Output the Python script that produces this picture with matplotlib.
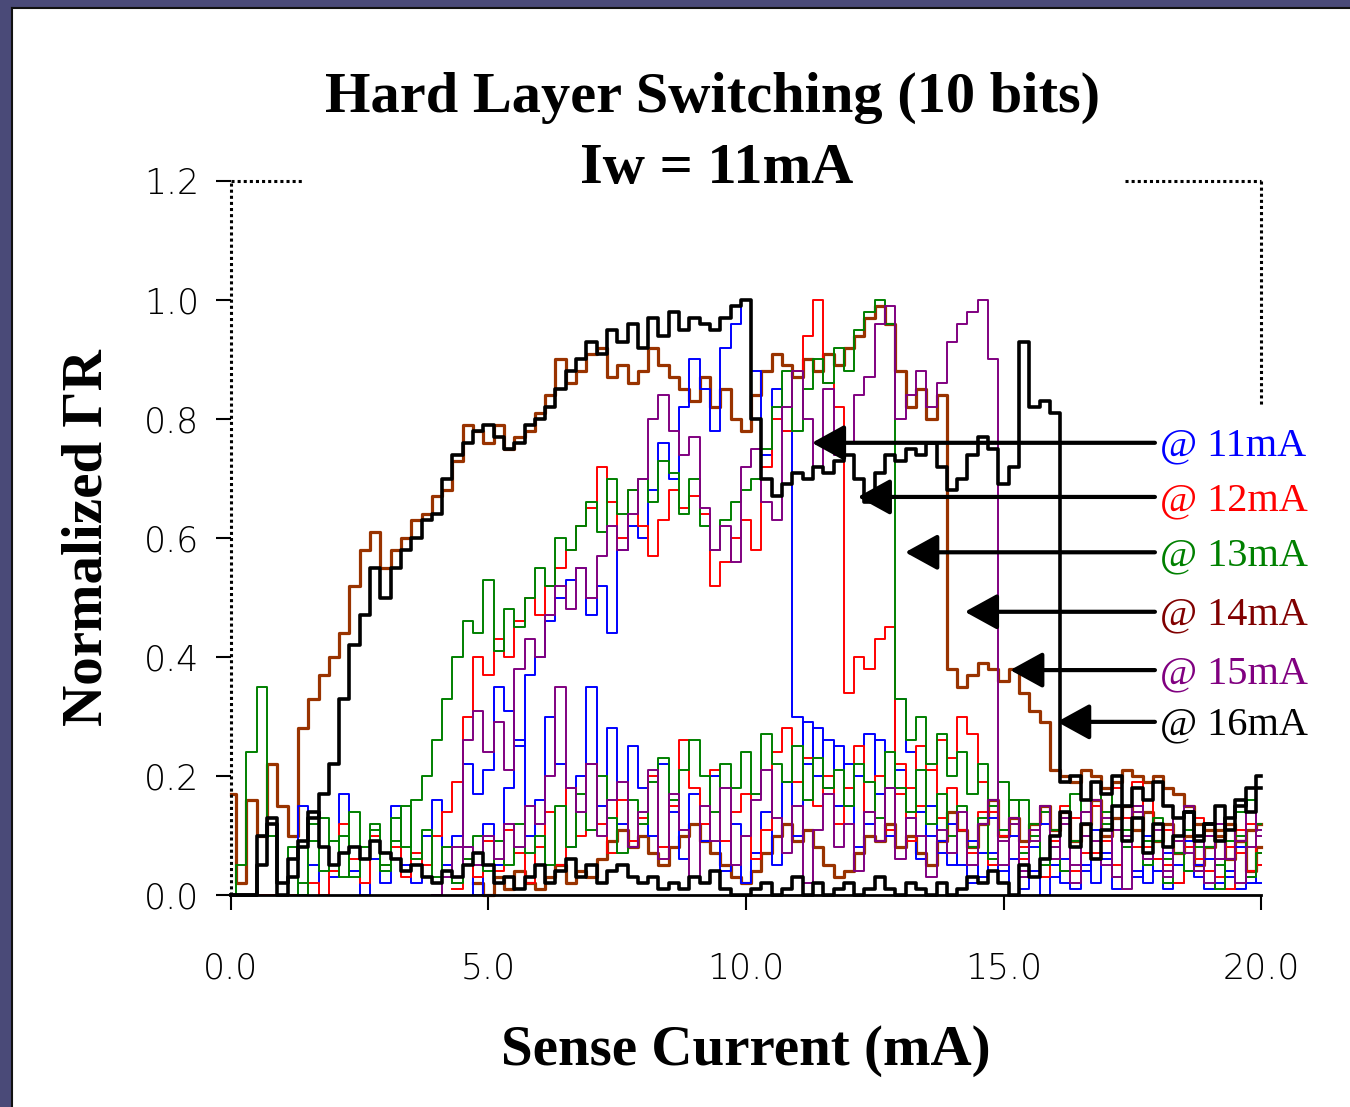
import matplotlib.pyplot as plt
import numpy as np
from matplotlib.patches import Rectangle

nan = np.nan

# sense current grid (mA), one point every 0.2 mA
current = np.round(np.arange(0, 20.01, 0.2), 1)

# forward sweep (up) and return sweep (down) for each write current
bk_up = [0.00, 0.00, 0.00, 0.05, 0.12, 0.00, 0.03, 0.08, 0.13, 0.17,
         0.22, 0.33, 0.42, 0.47, 0.55, 0.50, 0.55, 0.58, 0.60, 0.63,
         0.64, 0.70, 0.74, 0.76, 0.78, 0.79, 0.77, 0.75, 0.76, 0.79,
         0.80, 0.82, 0.85, 0.88, 0.90, 0.93, 0.91, 0.95, 0.93, 0.96,
         0.92, 0.97, 0.94, 0.98, 0.95, 0.97, 0.96, 0.95, 0.97, 0.99,
         1.00, 0.80, 0.70, 0.67, 0.69, 0.71, 0.70, 0.72, 0.71, 0.73,
         0.74, 0.70, 0.66, 0.71, 0.74, 0.73, 0.75, 0.74, 0.76, 0.72,
         0.68, 0.70, 0.74, 0.77, 0.75, 0.69, 0.72, 0.93, 0.82, 0.83,
         0.81, 0.19, 0.20, 0.16, 0.19, 0.17, 0.20, 0.15, 0.18, 0.16,
         0.19, 0.15, 0.13, 0.14, 0.10, 0.12, 0.09, 0.13, 0.15, 0.18,
         0.20]
bk_dn = [0.00, 0.00, 0.00, 0.10, 0.13, 0.02, 0.06, 0.09, 0.14, 0.08,
         0.05, 0.07, 0.08, 0.06, 0.09, 0.07, 0.06, 0.04, 0.05, 0.03,
         0.02, 0.04, 0.03, 0.05, 0.07, 0.05, 0.02, 0.03, 0.01, 0.03,
         0.05, 0.02, 0.04, 0.06, 0.03, 0.05, 0.02, 0.04, 0.05, 0.03,
         0.02, 0.03, 0.01, 0.02, 0.01, 0.03, 0.02, 0.04, 0.01, 0.00,
         0.00, 0.01, 0.02, 0.00, 0.01, 0.03, 0.00, 0.02, 0.00, 0.01,
         0.02, 0.00, 0.01, 0.03, 0.01, 0.00, 0.02, 0.01, 0.00, 0.02,
         0.00, 0.01, 0.03, 0.02, 0.04, 0.02, 0.00, 0.05, 0.03, 0.06,
         0.10, 0.14, 0.08, 0.12, 0.06, 0.11, 0.15, 0.09, 0.13, 0.07,
         0.12, 0.08, 0.10, 0.14, 0.09, 0.12, 0.15, 0.11, 0.16, 0.14,
         0.18]

br_up = [0.17, 0.02, 0.16, 0.10, 0.22, 0.15, 0.10, 0.28, 0.33, 0.37,
         0.40, 0.44, 0.52, 0.58, 0.61, 0.55, 0.58, 0.60, 0.63, 0.64,
         0.67, 0.68, 0.73, 0.79, 0.78, 0.76, 0.79, 0.75, 0.77, 0.78,
         0.81, 0.84, 0.90, 0.86, 0.88, 0.91, 0.92, 0.87, 0.89, 0.86,
         0.88, 0.92, 0.89, 0.87, 0.85, 0.83, 0.87, 0.82, 0.85, 0.80,
         0.78, 0.84, 0.88, 0.91, 0.89, 0.87, 0.90, 0.88, 0.91, 0.89,
         0.92, 0.94, 0.97, 0.99, 0.96, 0.88, 0.82, 0.85, 0.80, 0.84,
         0.38, 0.35, 0.37, 0.39, 0.38, 0.36, 0.38, 0.34, 0.31, 0.29,
         0.21, 0.20, 0.19, 0.21, 0.20, 0.18, 0.19, 0.21, 0.20, 0.19,
         0.20, 0.18, 0.17, 0.15, 0.12, 0.11, 0.10, 0.12, 0.09, 0.11,
         0.12]
br_dn = [nan, nan, nan, nan, nan, nan, nan, nan, nan, nan,
         nan, nan, nan, nan, nan, nan, nan, nan, nan, nan,
         nan, nan, nan, nan, 0.02, 0.00, 0.03, 0.01, 0.04, 0.02,
         0.01, 0.03, 0.05, 0.02, 0.04, 0.03, 0.06, 0.09, 0.11, 0.08,
         0.10, 0.07, 0.05, 0.08, 0.10, 0.12, 0.09, 0.07, 0.05, 0.03,
         0.02, 0.04, 0.07, 0.10, 0.12, 0.09, 0.11, 0.08, 0.05, 0.03,
         0.04, 0.07, 0.10, 0.09, 0.12, 0.08, 0.10, 0.07, 0.05, 0.09,
         0.14, 0.11, 0.08, 0.12, 0.16, 0.10, 0.13, 0.09, 0.12, 0.15,
         0.11, 0.14, 0.09, 0.12, 0.16, 0.10, 0.13, 0.15, 0.11, 0.14,
         0.09, 0.12, 0.07, 0.10, 0.05, 0.08, 0.11, 0.06, 0.09, 0.04,
         0.08]

bl_up = [0.00, 0.00, 0.00, 0.00, 0.00, 0.00, 0.00, 0.15, 0.05, 0.00,
         0.03, 0.17, 0.04, 0.00, 0.06, 0.02, 0.15, 0.05, 0.02, 0.10,
         0.16, 0.05, 0.10, 0.22, 0.17, 0.21, 0.35, 0.31, 0.25, 0.37,
         0.40, 0.46, 0.50, 0.53, 0.55, 0.47, 0.52, 0.44, 0.58, 0.62,
         0.60, 0.68, 0.76, 0.70, 0.82, 0.90, 0.85, 0.78, 0.92, 0.96,
         1.00, 0.88, 0.74, 0.85, 0.78, 0.30, 0.22, 0.28, 0.18, 0.25,
         0.15, 0.20, 0.12, 0.26, 0.18, 0.33, 0.24, 0.14, 0.10, 0.07,
         0.12, 0.05, 0.09, 0.03, 0.07, 0.02, 0.06, 0.01, 0.04, 0.00,
         0.03, 0.06, 0.01, 0.05, 0.02, 0.07, 0.03, 0.09, 0.04, 0.02,
         0.06, 0.01, 0.05, 0.08, 0.03, 0.06, 0.02, 0.04, 0.01, 0.03,
         0.02]
bl_dn = [nan, nan, nan, nan, nan, nan, nan, nan, nan, nan,
         nan, nan, nan, nan, nan, nan, nan, nan, nan, nan,
         nan, nan, 0.02, 0.08, 0.00, 0.12, 0.05, 0.18, 0.26, 0.10,
         0.16, 0.30, 0.22, 0.08, 0.20, 0.35, 0.15, 0.28, 0.12, 0.25,
         0.18, 0.10, 0.22, 0.14, 0.06, 0.17, 0.09, 0.20, 0.04, 0.12,
         0.02, 0.07, 0.14, 0.05, 0.19, 0.10, 0.29, 0.20, 0.26, 0.15,
         0.22, 0.08, 0.27, 0.17, 0.10, 0.21, 0.13, 0.06, 0.15, 0.09,
         0.05, 0.11, 0.02, 0.07, 0.13, 0.04, 0.10, 0.03, 0.08, 0.12,
         0.05, 0.02, 0.09, 0.04, 0.11, 0.06, 0.01, 0.08, 0.03, 0.10,
         0.04, 0.07, 0.02, 0.09, 0.05, 0.01, 0.06, 0.03, 0.08, 0.02,
         0.05]

rd_up = [0.00, 0.00, 0.00, 0.00, 0.00, 0.00, 0.00, 0.00, 0.02, 0.00,
         0.04, 0.12, 0.06, 0.02, 0.10, 0.05, 0.08, 0.03, 0.07, 0.05,
         0.10, 0.14, 0.19, 0.30, 0.40, 0.37, 0.43, 0.40, 0.46, 0.50,
         0.47, 0.52, 0.55, 0.58, 0.62, 0.65, 0.72, 0.66, 0.60, 0.68,
         0.62, 0.57, 0.63, 0.68, 0.65, 0.67, 0.64, 0.52, 0.56, 0.60,
         0.63, 0.58, 0.72, 0.80, 0.78, 0.88, 0.94, 1.00, 0.86, 0.82,
         0.34, 0.40, 0.38, 0.43, 0.45, 0.22, 0.18, 0.25, 0.21, 0.26,
         0.23, 0.30, 0.27, 0.19, 0.14, 0.10, 0.16, 0.08, 0.12, 0.05,
         0.10, 0.04, 0.13, 0.07, 0.15, 0.09, 0.18, 0.11, 0.19, 0.08,
         0.12, 0.05, 0.09, 0.14, 0.06, 0.10, 0.03, 0.08, 0.11, 0.04,
         0.07]
rd_dn = [nan, nan, nan, nan, nan, nan, nan, nan, nan, nan,
         nan, nan, nan, nan, nan, nan, nan, nan, nan, nan,
         nan, nan, 0.01, 0.06, 0.03, 0.09, 0.04, 0.11, 0.07, 0.02,
         0.08, 0.14, 0.05, 0.18, 0.10, 0.22, 0.12, 0.07, 0.16, 0.09,
         0.13, 0.20, 0.08, 0.15, 0.26, 0.18, 0.12, 0.21, 0.09, 0.14,
         0.17, 0.06, 0.11, 0.24, 0.28, 0.19, 0.23, 0.15, 0.20, 0.12,
         0.18, 0.25, 0.14, 0.20, 0.11, 0.17, 0.09, 0.15, 0.21, 0.13,
         0.18, 0.11, 0.07, 0.14, 0.05, 0.10, 0.16, 0.06, 0.12, 0.03,
         0.09, 0.15, 0.04, 0.12, 0.07, 0.17, 0.05, 0.13, 0.08, 0.16,
         0.06, 0.11, 0.02, 0.08, 0.13, 0.04, 0.09, 0.01, 0.07, 0.12,
         0.05]

gr_up = [0.00, 0.05, 0.24, 0.35, 0.10, 0.02, 0.08, 0.00, 0.12, 0.04,
         0.09, 0.03, 0.14, 0.06, 0.11, 0.05, 0.13, 0.08, 0.16, 0.20,
         0.26, 0.33, 0.40, 0.46, 0.44, 0.53, 0.41, 0.48, 0.45, 0.50,
         0.55, 0.52, 0.60, 0.58, 0.62, 0.66, 0.61, 0.70, 0.64, 0.68,
         0.70, 0.66, 0.73, 0.71, 0.64, 0.70, 0.62, 0.58, 0.63, 0.66,
         0.68, 0.70, 0.75, 0.82, 0.88, 0.78, 0.85, 0.90, 0.86, 0.92,
         0.88, 0.95, 0.98, 1.00, 0.96, 0.33, 0.26, 0.30, 0.22, 0.27,
         0.20, 0.24, 0.17, 0.22, 0.15, 0.19, 0.12, 0.16, 0.10, 0.14,
         0.08, 0.13, 0.17, 0.10, 0.19, 0.14, 0.20, 0.11, 0.15, 0.09,
         0.13, 0.06, 0.10, 0.04, 0.08, 0.12, 0.05, 0.09, 0.14, 0.16,
         0.12]
gr_dn = [nan, nan, nan, nan, nan, nan, nan, 0.02, 0.09, 0.13,
         0.05, 0.10, 0.03, 0.08, 0.12, 0.04, 0.09, 0.15, 0.06, 0.11,
         0.03, 0.08, 0.02, 0.06, 0.10, 0.04, 0.09, 0.05, 0.12, 0.07,
         0.10, 0.05, 0.15, 0.08, 0.17, 0.11, 0.20, 0.13, 0.07, 0.16,
         0.12, 0.19, 0.23, 0.16, 0.21, 0.26, 0.20, 0.14, 0.22, 0.18,
         0.24, 0.17, 0.27, 0.22, 0.19, 0.25, 0.16, 0.23, 0.18, 0.21,
         0.15, 0.22, 0.19, 0.13, 0.24, 0.18, 0.14, 0.21, 0.12, 0.17,
         0.10, 0.15, 0.08, 0.13, 0.06, 0.11, 0.16, 0.07, 0.12, 0.05,
         0.11, 0.04, 0.09, 0.14, 0.06, 0.12, 0.03, 0.08, 0.13, 0.05,
         0.09, 0.02, 0.07, 0.11, 0.04, 0.08, 0.01, 0.06, 0.10, 0.03,
         0.07]

pu_up = [nan, nan, nan, nan, nan, nan, nan, nan, nan, nan,
         nan, nan, nan, nan, nan, nan, nan, nan, nan, nan,
         0.00, 0.03, 0.08, 0.26, 0.31, 0.24, 0.29, 0.21, 0.38, 0.43,
         0.40, 0.47, 0.52, 0.48, 0.55, 0.50, 0.57, 0.62, 0.58, 0.64,
         0.70, 0.80, 0.84, 0.78, 0.74, 0.77, 0.65, 0.58, 0.62, 0.56,
         0.72, 0.75, 0.66, 0.63, 0.82, 0.88, 0.80, 0.72, 0.85, 0.74,
         0.76, 0.84, 0.87, 0.96, 0.99, 0.80, 0.84, 0.88, 0.82, 0.86,
         0.93, 0.96, 0.98, 1.00, 0.90, 0.05, 0.12, 0.03, 0.09, 0.15,
         0.06, 0.13, 0.02, 0.10, 0.16, 0.05, 0.11, 0.01, 0.14, 0.07,
         0.12, 0.03, 0.09, 0.15, 0.04, 0.10, 0.06, 0.13, 0.02, 0.08,
         0.11]
pu_dn = [nan, nan, nan, nan, nan, nan, nan, nan, nan, nan,
         nan, nan, nan, nan, nan, nan, nan, nan, nan, nan,
         nan, nan, 0.03, 0.08, 0.05, 0.10, 0.06, 0.12, 0.08, 0.15,
         0.12, 0.20, 0.35, 0.18, 0.14, 0.22, 0.10, 0.16, 0.19, 0.08,
         0.14, 0.21, 0.06, 0.17, 0.11, 0.03, 0.15, 0.09, 0.18, 0.05,
         0.10, 0.16, 0.21, 0.13, 0.07, 0.15, 0.02, 0.11, 0.17, 0.08,
         0.12, 0.04, 0.14, 0.09, 0.18, 0.06, 0.13, 0.10, 0.03, 0.11,
         0.07, 0.14, 0.05, 0.12, 0.16, 0.09, 0.13, 0.04, 0.11, 0.15,
         0.08, 0.12, 0.05, 0.14, 0.09, 0.13, 0.03, 0.10, 0.15, 0.06,
         0.11, 0.04, 0.13, 0.07, 0.10, 0.02, 0.12, 0.06, 0.09, 0.14,
         0.10]

labels = ['@ 11mA', '@ 12mA', '@ 13mA', '@ 14mA', '@ 15mA', '@ 16mA']
label_colors = ['#0000ff', '#ff0000', '#008000', '#800000', '#800080', '#000000']
arrow_tip_x = [11.28, 12.17, 13.09, 14.25, 15.13, 16.04]
arrow_y = [0.760, 0.669, 0.576, 0.476, 0.378, 0.291]

fig = plt.figure(figsize=(13.5, 11.07), dpi=100)
fig.patch.set_facecolor('white')

# slide frame on the left and top edge
frame = '#4a4a78'
fig.patches.append(Rectangle((0, 0), 0.0085, 1, transform=fig.transFigure, color=frame, zorder=0))
fig.patches.append(Rectangle((0, 0.9935), 1, 0.0065, transform=fig.transFigure, color=frame, zorder=0))
fig.add_artist(plt.Line2D([0.009, 0.009], [0, 0.993], transform=fig.transFigure, color='#111111', lw=1.5))
fig.add_artist(plt.Line2D([0.009, 1], [0.993, 0.993], transform=fig.transFigure, color='#111111', lw=1.5))

ax = fig.add_axes([0.1711, 0.1915, 0.763, 0.645])

series = [
    (br_up, br_dn, '#993300', 2.3),
    (bl_up, bl_dn, '#0000ff', 1.4),
    (rd_up, rd_dn, '#ff0000', 1.4),
    (gr_up, gr_dn, '#008000', 1.4),
    (pu_up, pu_dn, '#800080', 1.4),
    (bk_up, bk_dn, '#000000', 2.6),
]
for up, dn, col, lw in series:
    ax.plot(current, dn, color=col, lw=lw, drawstyle='steps-mid', clip_on=False)
    ax.plot(current, up, color=col, lw=lw, drawstyle='steps-mid', clip_on=False)

ax.set_xlim(0, 20)
ax.set_ylim(0, 1.2)
ax.set_xticks([0, 5, 10, 15, 20])
ax.set_yticks([0, 0.2, 0.4, 0.6, 0.8, 1.0, 1.2])
ax.set_xticklabels(['%.1f' % v for v in [0, 5, 10, 15, 20]])
ax.set_yticklabels(['%.1f' % v for v in [0, 0.2, 0.4, 0.6, 0.8, 1.0, 1.2]])
ax.tick_params(direction='out', length=11, width=1.5, color='black')
ax.tick_params(axis='x', pad=30)
ax.tick_params(axis='y', pad=12)
for lab in ax.get_xticklabels() + ax.get_yticklabels():
    lab.set_fontfamily('DejaVu Sans')
    lab.set_fontweight('light')
    lab.set_fontsize(25)

for s in ['top', 'right', 'left']:
    ax.spines[s].set_visible(False)
ax.spines['bottom'].set_linewidth(2)

# dotted plot-area border, partly hidden by title and labels
dot = dict(transform=ax.transAxes, color='black', lw=2.2, ls=(0, (1.0, 1.0)), clip_on=False)
ax.plot([0, 0], [0, 1], **dot)
ax.plot([0, 0.069], [1, 1], **dot)
ax.plot([0.868, 1], [1, 1], **dot)
ax.plot([1, 1], [1, 0.686], **dot)

for lab, col, tx, ty in zip(labels, label_colors, arrow_tip_x, arrow_y):
    ax.annotate('', xy=(tx, ty), xytext=(17.94, ty),
                arrowprops=dict(arrowstyle='-|>,head_length=1.0,head_width=0.55',
                                color='black', lw=3, mutation_scale=20,
                                shrinkA=0, shrinkB=0))
    ax.text(18.04, ty - 0.006, lab, color=col, fontsize=29,
            fontfamily='Liberation Serif', va='center', ha='left', clip_on=False)

ax.set_xlabel('Sense Current (mA)', fontsize=41, fontweight='bold',
              fontfamily='Liberation Serif', labelpad=28)
ax.set_ylabel('Normalized \u0393R', fontsize=41, fontweight='bold',
              fontfamily='Liberation Serif', labelpad=22)

fig.text(0.528, 0.912, 'Hard Layer Switching (10 bits)', fontsize=42, fontweight='bold',
         fontfamily='Liberation Serif', ha='center', va='center')
fig.text(0.531, 0.847, 'Iw = 11mA', fontsize=42, fontweight='bold',
         fontfamily='Liberation Serif', ha='center', va='center')

fig.savefig('out.png', dpi=100, facecolor='white')
